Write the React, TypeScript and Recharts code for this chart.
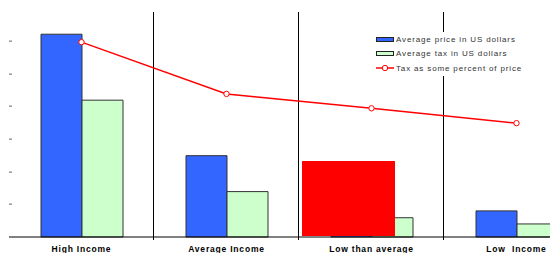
import React from 'react';
import { ComposedChart, Bar, Line, XAxis, YAxis, CartesianGrid, Legend } from 'recharts';

const categories = ['High Income', 'Average Income', 'Low than average', 'Low  Income'];
const avgPrice = [62.1, 24.9, 11.1, 8.0];
const avgTax = [41.9, 13.9, 5.9, 4.0];
const taxPercent = [68.3, 56.8, 53.6, 50.3];
const leftTicks = [10, 20, 30, 40, 50, 60];

const seriesNames = {
  price: 'Average price in US dollars',
  tax: 'Average tax in US dollars',
  pct: 'Tax as some percent of price',
};

const data = categories.map((name, i) => ({
  name,
  price: avgPrice[i],
  tax: avgTax[i],
  pct: taxPercent[i],
}));

const XTick = (props: any) => {
  const { x, y, payload } = props;
  return (
    <text
      x={x}
      y={y + 15}
      textAnchor="middle"
      fontFamily="'Liberation Sans', Arial, sans-serif"
      fontSize={8.5}
      fontWeight="bold"
      letterSpacing={0.8}
      fill="#000"
      style={{ whiteSpace: 'pre' }}
    >
      {payload.value}
    </text>
  );
};

const YTick = (props: any) => {
  const { x, y } = props;
  return <rect x={x} y={Math.round(y) - 0.5} width={3} height={1.3} fill="#888" />;
};

const LegendContent = () => {
  const rowStyle: React.CSSProperties = {
    display: 'flex',
    alignItems: 'center',
    height: 14.5,
  };
  const textStyle: React.CSSProperties = {
    fontFamily: "'Liberation Sans', Arial, sans-serif",
    fontSize: 8,
    letterSpacing: 0.85,
    color: '#333',
    marginLeft: 2,
    whiteSpace: 'pre',
  };
  return (
    <div style={{ background: '#fff', padding: '0 0 0 4px' }}>
      <div style={rowStyle}>
        <div style={{ width: 16, height: 3, background: '#3366FF', border: '1px solid #222' }} />
        <span style={textStyle}>{seriesNames.price}</span>
      </div>
      <div style={rowStyle}>
        <div style={{ width: 16, height: 3, background: '#CCFFCC', border: '1px solid #222' }} />
        <span style={textStyle}>{seriesNames.tax}</span>
      </div>
      <div style={rowStyle}>
        <svg width={18} height={8}>
          <line x1={0} y1={4} x2={18} y2={4} stroke="#FF0000" strokeWidth={1.5} />
          <circle cx={9} cy={4} r={2.7} fill="#fff" stroke="#FF0000" strokeWidth={1} />
        </svg>
        <span style={textStyle}>{seriesNames.pct}</span>
      </div>
    </div>
  );
};

export default function App() {
  return (
    <div
      style={{
        position: 'fixed',
        left: 0,
        top: 0,
        width: 550,
        height: 253,
        overflow: 'hidden',
        background: '#fff',
      }}
    >
      <ComposedChart
        width={589}
        height={253}
        data={data}
        margin={{ top: 12, right: 0, bottom: 0, left: 0 }}
        barGap={0}
        barSize={41}
      >
        <CartesianGrid
          horizontal={false}
          stroke="#000"
          strokeWidth={1}
          y={12}
          height={228}
          verticalCoordinatesGenerator={(p: any) =>
            [1, 2, 3].map((i) => p.offset.left + (p.offset.width * i) / categories.length - 0.5)
          }
        />
        <XAxis
          dataKey="name"
          axisLine={{ stroke: '#000', strokeWidth: 1 }}
          tickLine={false}
          tickSize={0}
          tickMargin={0}
          height={16}
          interval={0}
          tick={<XTick />}
        />
        <YAxis
          yAxisId="left"
          domain={[0, 68.9]}
          ticks={leftTicks}
          width={9}
          axisLine={false}
          tickLine={false}
          tickSize={0}
          tickMargin={0}
          tick={<YTick />}
        />
        <YAxis yAxisId="right" orientation="right" hide domain={[25, 75]} />
        <Legend
          layout="vertical"
          align="center"
          verticalAlign="middle"
          content={<LegendContent />}
          wrapperStyle={{ position: 'absolute', left: 372, top: 32, width: 155 }}
        />
        <Bar
          yAxisId="left"
          dataKey="price"
          name={seriesNames.price}
          fill="#3366FF"
          stroke="#333"
          strokeWidth={1}
          isAnimationActive={false}
        />
        <Bar
          yAxisId="left"
          dataKey="tax"
          name={seriesNames.tax}
          fill="#CCFFCC"
          stroke="#333"
          strokeWidth={1}
          isAnimationActive={false}
        />
        <Line
          yAxisId="right"
          dataKey="pct"
          name={seriesNames.pct}
          stroke="#FF0000"
          strokeWidth={1.5}
          dot={{ r: 2.7, fill: '#fff', stroke: '#FF0000', strokeWidth: 1 }}
          isAnimationActive={false}
        />
      </ComposedChart>
      <div
        style={{
          position: 'absolute',
          left: 302,
          top: 161,
          width: 93,
          height: 75,
          background: '#FF0000',
        }}
      />
    </div>
  );
}
